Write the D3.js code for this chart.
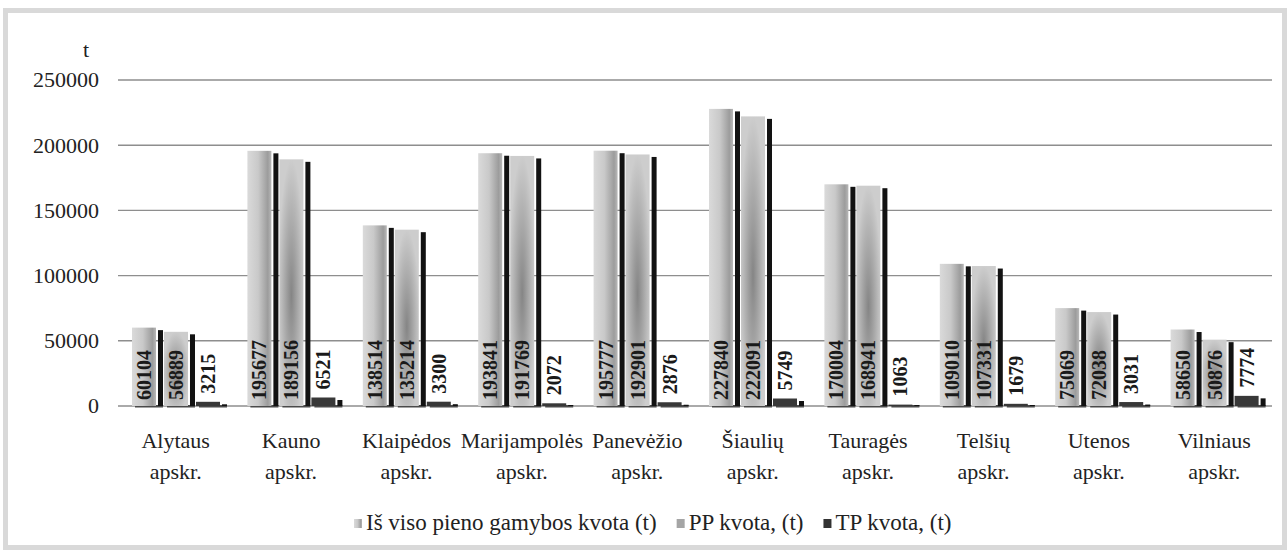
<!DOCTYPE html>
<html>
<head>
<meta charset="utf-8">
<script src="https://cdn.jsdelivr.net/npm/d3@7"></script>
<style>
  body { margin: 0; background: #fff; }
</style>
</head>
<body>
<div id="chart"></div>
<script>
// data
var categories = ["Alytaus apskr.", "Kauno apskr.", "Klaipėdos apskr.", "Marijampolės apskr.",
  "Panevėžio apskr.", "Šiaulių apskr.", "Tauragės apskr.", "Telšių apskr.", "Utenos apskr.", "Vilniaus apskr."];
var seriesNames = ["Iš viso pieno gamybos kvota (t)", "PP kvota, (t)", "TP kvota, (t)"];
var totalQuota = [60104, 195677, 138514, 193841, 195777, 227840, 170004, 109010, 75069, 58650];
var ppQuota = [56889, 189156, 135214, 191769, 192901, 222091, 168941, 107331, 72038, 50876];
var tpQuota = [3215, 6521, 3300, 2072, 2876, 5749, 1063, 1679, 3031, 7774];
var yTicks = [0, 50000, 100000, 150000, 200000, 250000];
var unitLabel = "t";

function drawChart() {
  var width = 1287, height = 551;
  var plotLeft = 118, plotRight = 1272, plotTop = 80, plotBottom = 406;
  var serif = "'Liberation Serif', 'Times New Roman', 'DejaVu Serif', serif";

  var values = [totalQuota, ppQuota, tpQuota];
  var rows = [];
  categories.forEach(function(c, i) {
    values.forEach(function(arr, s) {
      rows.push({ cat: c, series: s, value: arr[i] });
    });
  });

  var svg = d3.select("#chart").append("svg")
    .attr("width", width)
    .attr("height", height)
    .style("font-family", serif);

  // frame
  svg.append("rect")
    .attr("x", 5.5).attr("y", 10.5)
    .attr("width", width - 8).attr("height", height - 14)
    .attr("fill", "none")
    .attr("stroke", "#d9d9d9")
    .attr("stroke-width", 5);

  var defs = svg.append("defs");
  var g0 = defs.append("linearGradient").attr("id", "grad0")
    .attr("x1", "0%").attr("x2", "100%").attr("y1", "0%").attr("y2", "0%");
  g0.append("stop").attr("offset", "0%").attr("stop-color", "#dadada");
  g0.append("stop").attr("offset", "45%").attr("stop-color", "#c9c9c9");
  g0.append("stop").attr("offset", "85%").attr("stop-color", "#9c9c9c");
  g0.append("stop").attr("offset", "100%").attr("stop-color", "#b8b8b8");

  var g1 = defs.append("radialGradient").attr("id", "grad1")
    .attr("cx", "50%").attr("cy", "55%").attr("r", "55%");
  g1.append("stop").attr("offset", "0%").attr("stop-color", "#858585");
  g1.append("stop").attr("offset", "100%").attr("stop-color", "#cdcdcd");

  var frontFill = ["url(#grad0)", "url(#grad1)", "#383838"];
  var legendFill = ["url(#grad0)", "#a5a5a5", "#333"];

  var x0 = d3.scaleBand().domain(categories).range([plotLeft, plotRight]);
  var x1 = d3.scaleBand().domain([0, 1, 2]).range([14, 110]);
  var y = d3.scaleLinear().domain([0, 250000]).range([plotBottom, plotTop]);

  var frontW = x1.bandwidth() * 0.75;

  // gridlines
  svg.append("g")
    .selectAll("line")
    .data(yTicks)
    .join("line")
    .attr("x1", plotLeft).attr("x2", plotRight)
    .attr("y1", function(d) { return y(d); })
    .attr("y2", function(d) { return y(d); })
    .attr("stroke", "#8e8e8e")
    .attr("stroke-width", 1.4);

  // y tick labels
  svg.append("g")
    .selectAll("text")
    .data(yTicks)
    .join("text")
    .attr("x", 99)
    .attr("y", function(d) { return y(d); })
    .attr("dy", "0.34em")
    .attr("text-anchor", "end")
    .attr("fill", "#222")
    .style("font-size", "22px")
    .text(function(d) { return d; });

  svg.append("text")
    .attr("x", 86).attr("y", 50)
    .attr("dy", "0.34em")
    .attr("text-anchor", "middle")
    .attr("fill", "#222")
    .style("font-size", "22px")
    .text(unitLabel);

  var bars = svg.append("g")
    .selectAll("g")
    .data(rows)
    .join("g")
    .attr("transform", function(d) { return "translate(" + (x0(d.cat) + x1(d.series)) + ",0)"; });

  // floor shadow
  bars.append("rect")
    .attr("x", 3)
    .attr("y", plotBottom - 1)
    .attr("width", x1.bandwidth() - 4)
    .attr("height", 2.5)
    .attr("fill", "#4a4a4a");

  // side face
  bars.append("rect")
    .attr("x", frontW + 2)
    .attr("y", function(d) { return Math.min(y(d.value) + 2.5, plotBottom - 1); })
    .attr("width", 5)
    .attr("height", function(d) { return Math.max(plotBottom - y(d.value) - 2.5, 1); })
    .attr("fill", "#121212");

  // front face
  bars.append("rect")
    .attr("x", 0)
    .attr("y", function(d) { return y(d.value); })
    .attr("width", frontW)
    .attr("height", function(d) { return plotBottom - y(d.value); })
    .attr("fill", function(d) { return frontFill[d.series]; });

  // value labels, inside base when they fit, otherwise above the bar
  bars.append("text")
    .attr("dy", "0.35em")
    .attr("fill", "#1a1a1a")
    .style("font-size", "20px")
    .style("font-weight", "bold")
    .text(function(d) { return d.value; })
    .attr("transform", function(d) {
      var h = plotBottom - y(d.value);
      var len = this.getComputedTextLength();
      var ly = h > len + 10 ? plotBottom - 6 : y(d.value) - 8;
      return "translate(" + (frontW / 2) + "," + ly + ") rotate(-90)";
    });

  // category labels (two lines)
  svg.append("g")
    .selectAll("text")
    .data(categories)
    .join("text")
    .attr("text-anchor", "middle")
    .attr("fill", "#222")
    .style("font-size", "22px")
    .each(function(c) {
      var parts = c.split(" ");
      var cx = x0(c) + x0.bandwidth() / 2;
      d3.select(this).selectAll("tspan")
        .data(parts)
        .join("tspan")
        .attr("x", cx)
        .attr("y", function(p, i) { return 441 + i * 31; })
        .attr("dy", "0.34em")
        .text(function(p) { return p; });
    });

  // legend
  var legend = svg.append("g").attr("transform", "translate(354,522)");
  var lx = 0;
  seriesNames.forEach(function(name, i) {
    var item = legend.append("g").attr("transform", "translate(" + lx + ",0)");
    item.append("rect")
      .attr("x", 0).attr("y", -3)
      .attr("width", 8).attr("height", 9)
      .attr("fill", legendFill[i]);
    var t = item.append("text")
      .attr("x", 12)
      .attr("dy", "0.34em")
      .attr("fill", "#222")
      .style("font-size", "23px")
      .text(name);
    lx += 12 + t.node().getComputedTextLength() + 20;
  });
}

drawChart();
</script>
</body>
</html>
